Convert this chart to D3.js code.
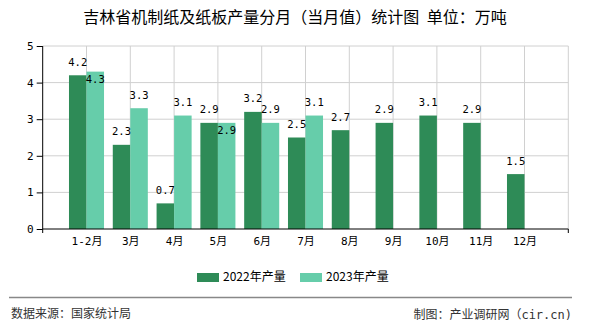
<!DOCTYPE html>
<html>
<head>
<meta charset="utf-8">
<script src="https://cdn.jsdelivr.net/npm/d3@7"></script>
<style>
html,body{margin:0;padding:0;background:#fff;}
svg{display:block;}
</style>
</head>
<body>
<svg id="chart" width="590" height="330"></svg>
<script>
const title = "吉林省机制纸及纸板产量分月（当月值）统计图 单位：万吨";
const categories = ["1-2月","3月","4月","5月","6月","7月","8月","9月","10月","11月","12月"];
const seriesNames = ["2022年产量","2023年产量"];
const values2022 = [4.2,2.3,0.7,2.9,3.2,2.5,2.7,2.9,3.1,2.9,1.5];
const values2023 = [4.3,3.3,3.1,2.9,2.9,3.1];
const yTicks = [0,1,2,3,4,5];
const colors = ["#2E8B57","#66CDAA"];
const sourceText = "数据来源：国家统计局";
const creditText = "制图：产业调研网（cir.cn)";

const svg = d3.select("#chart");
const monoFont = "'DejaVu Sans Mono','Noto Sans CJK SC',monospace";
const cjkFont = "'Noto Sans CJK SC','Noto Sans',sans-serif";

const pLeft = 42.7, pRight = 568.3, pTop = 46, pBottom = 229;
const x = d3.scalePoint().domain(categories).range([pLeft, pRight]).padding(1);
const step = x.step();
const bw = step * 0.4;
const xs = d3.scaleBand().domain(seriesNames).range([-bw, bw]);
const y = d3.scaleLinear().domain([0,5]).range([pBottom, pTop]);

// title
svg.append("text").attr("x",295).attr("y",19).attr("text-anchor","middle")
  .attr("dominant-baseline","middle")
  .style("font-family",cjkFont).style("font-size","16px").style("word-spacing","4px").attr("fill","#000")
  .text(title);

// gridlines
const grid = svg.append("g");
yTicks.forEach(t => {
  if (t === 0) return;
  grid.append("line").attr("x1",pLeft).attr("x2",pRight).attr("y1",y(t)).attr("y2",y(t))
    .attr("stroke","#d0d0d0").attr("stroke-width",1);
});
const vLines = [pRight].concat(categories.map(c => x(c)));
vLines.forEach(v => {
  grid.append("line").attr("x1",v).attr("x2",v).attr("y1",pTop).attr("y2",pBottom)
    .attr("stroke","#d0d0d0").attr("stroke-width",1);
});

// bars
const series = [values2022, values2023];
series.forEach((vals, si) => {
  svg.append("g").selectAll("rect").data(vals).join("rect")
    .attr("x",(d,i)=> x(categories[i]) + xs(seriesNames[si]))
    .attr("width", xs.bandwidth())
    .attr("y", d => y(d))
    .attr("height", d => y(0) - y(d))
    .attr("fill", colors[si]);
});

// value labels with simple collision avoidance
const lblOff = 12.4;
const labels = [];
series.forEach((vals, si) => {
  vals.forEach((v,i) => {
    const cx = x(categories[i]) + xs(seriesNames[si]) + xs.bandwidth()/2;
    let cy = y(v) - lblOff;
    if (si === 1) {
      const other = labels.find(l => l.i === i && l.si === 0);
      if (other && Math.abs(other.cy - cy) < 10) cy = y(v) + 8.5;
    }
    labels.push({i, si, v, cx, cy});
  });
});
svg.append("g").selectAll("text").data(labels).join("text")
  .attr("x", d => d.cx).attr("y", d => d.cy)
  .attr("text-anchor","middle").attr("dominant-baseline","middle")
  .style("font-family",monoFont).style("font-size","10.5px").attr("fill","#000")
  .text(d => d.v.toFixed(1));

// y axis
const yAxis = svg.append("g").attr("transform",`translate(${pLeft},0)`)
  .call(d3.axisLeft(y).tickValues(yTicks).tickSize(6).tickSizeOuter(0).tickFormat(d3.format("d")));
yAxis.select(".domain").attr("stroke","#000").attr("d",`M0,${pTop}V${pBottom+4}`);
yAxis.selectAll(".tick line").attr("stroke","#000");
yAxis.selectAll(".tick text").style("font-family",monoFont).style("font-size","11px").attr("fill","#000").attr("x",-9);

// x axis
const xAxis = svg.append("g").attr("transform",`translate(0,${pBottom})`)
  .call(d3.axisBottom(x).tickSize(0).tickSizeOuter(0));
xAxis.select(".domain").attr("stroke","#000").attr("d",`M${pLeft},0H${pRight}`);
xAxis.selectAll(".tick text").style("font-family",monoFont).style("font-size","11px").attr("fill","#000")
  .attr("y",13).attr("dy",null).attr("dominant-baseline","middle");
xAxis.append("line").attr("x1",pRight).attr("x2",pRight).attr("y1",0).attr("y2",4).attr("stroke","#000");

// legend
const legend = svg.append("g");
const legX = [197, 300];
seriesNames.forEach((n, i) => {
  legend.append("rect").attr("x",legX[i]).attr("y",273).attr("width",22).attr("height",9).attr("fill",colors[i]);
  legend.append("text").attr("x",legX[i]+26).attr("y",277.5).attr("dominant-baseline","middle")
    .style("font-family",cjkFont).style("font-size","12px").attr("fill","#000").text(n);
});

// footer
svg.append("line").attr("x1",9).attr("x2",572).attr("y1",297.5).attr("y2",297.5)
  .attr("stroke","#888").attr("stroke-width",1.5);
svg.append("text").attr("x",11).attr("y",315).attr("dominant-baseline","middle")
  .style("font-family",cjkFont).style("font-size","12px").attr("fill","#333").text(sourceText);
svg.append("text").attr("x",572).attr("y",315).attr("dominant-baseline","middle").attr("text-anchor","end")
  .style("font-family",monoFont).style("font-size","12px").attr("fill","#333").text(creditText);
</script>
</body>
</html>
